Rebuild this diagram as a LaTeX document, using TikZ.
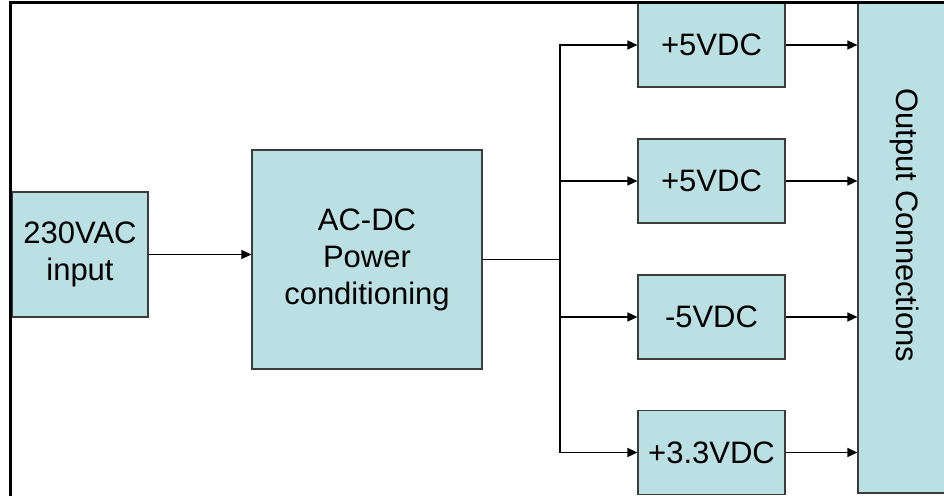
\documentclass[tikz,border=0pt]{standalone}
\usepackage{fontspec}
\setmainfont{Liberation Sans}
\usepackage{graphicx}
\usetikzlibrary{arrows.meta,positioning}
\definecolor{boxfill}{RGB}{187,224,227}
\definecolor{boxline}{RGB}{60,60,60}

\begin{document}
\begin{tikzpicture}[x=1pt,y=-1pt,
  every node/.style={font=\fontsize{31}{37}\selectfont,align=center},
  block/.style={draw=boxline,fill=boxfill,line width=1.2pt,inner sep=0pt},
  feed/.style={-{Triangle[length=10pt,width=9pt]},line width=1.4pt}]
  \clip (0,0) rectangle (944,495);
  % blocks
  \node[block,minimum width=136pt,minimum height=125pt] (input) at (80,254.5) {230VAC\\input};
  \node[block,minimum width=230pt,minimum height=219pt] (acdc) at (367,259.5) {AC-DC\\Power\\conditioning};
  \foreach \lab/\yy [count=\i] in {+5VDC/45,+5VDC/181,-5VDC/317,+3.3VDC/452.5}{
    \node[block,minimum width=147pt,minimum height=84pt] (dc\i) at (711.5,\yy) {\lab};
  }
  \node[block,minimum width=94pt,minimum height=491pt] (outbox) at (905,247.5) {\rotatebox{-90}{Output Connections\hspace{44pt}}};
  % connectors
  \coordinate (split) at (560,259.5);
  \draw[feed] (input.east) -- (input.east -| acdc.west);
  \draw[line width=1.4pt] (acdc.east) -- (split);
  \foreach \i in {1,...,4}{
    \draw[feed] (split) |- (dc\i.west);
    \draw[feed] (dc\i.east) -- (dc\i.east -| outbox.west);
  }
  % frame
  \draw[line width=3pt] (10,500) |- (950,3);
\end{tikzpicture}
\end{document}
